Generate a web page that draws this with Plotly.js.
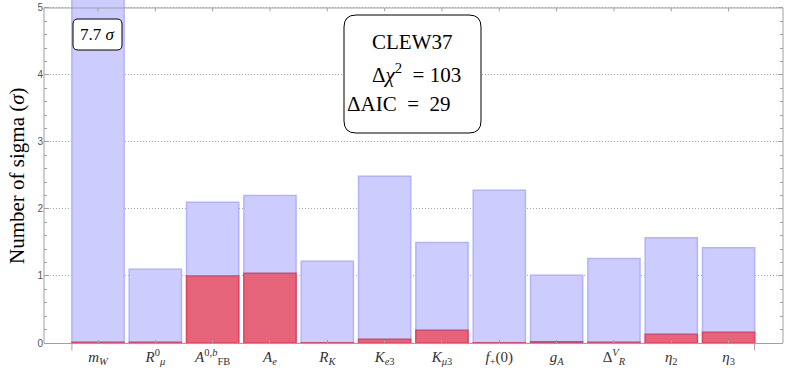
<!DOCTYPE html>
<html>
<head>
<meta charset="utf-8">
<script src="https://cdn.plot.ly/plotly-3.0.1.min.js"></script>
<style>html,body{margin:0;padding:0;background:#fff;}#chart{width:785px;height:377px;}</style>
</head>
<body>
<div id="chart"></div>
<script>
// ---- data ----
const categories = ["mW","Rmu0","AFB0b","Ae","RK","Ke3","Kmu3","fplus0","gA","DeltaRV","eta2","eta3"];
const tickLabels = [
  "<i>m</i><sub><i>W</i></sub>",
  "<i>R</i><sup>0</sup><sub><i>μ</i></sub>",
  "<i>A</i><sup>0,<i>b</i></sup><sub>FB</sub>",
  "<i>A</i><sub><i>e</i></sub>",
  "<i>R</i><sub><i>K</i></sub>",
  "<i>K</i><sub><i>e</i>3</sub>",
  "<i>K</i><sub><i>μ</i>3</sub>",
  "<i>f</i><sub>+</sub>(0)",
  "<i>g</i><sub><i>A</i></sub>",
  "Δ<sup><i>V</i></sup><sub><i>R</i></sub>",
  "<i>η</i><sub>2</sub>",
  "<i>η</i><sub>3</sub>"
];
const smSigma   = [7.7, 1.10, 2.10, 2.20, 1.22, 2.49, 1.50, 2.28, 1.01, 1.26, 1.57, 1.42];
const clewSigma = [0.01, 0.01, 1.00, 1.04, 0.005, 0.055, 0.19, 0.005, 0.02, 0.01, 0.13, 0.16];
const yTicks = [0, 1, 2, 3, 4, 5];
const modelName = "CLEW37";
const deltaChi2 = 103;
const deltaAIC = 29;
const mWLabel = "7.7";

// ---- layout helpers ----
const W = 785, H = 377, ML = 44, MR = 2, MT = 0, MB = 34;
const PW = W - ML - MR, PH = H - MT - MB;
const px = v => (v - ML) / PW;
const py = v => (H - MB - v) / PH;
function roundRect(x0, y0, x1, y1, r) {
  const X = v => px(v), Y = v => py(v);
  return `M${X(x0 + r)},${Y(y0)} L${X(x1 - r)},${Y(y0)} Q${X(x1)},${Y(y0)} ${X(x1)},${Y(y0 + r)} ` +
         `L${X(x1)},${Y(y1 - r)} Q${X(x1)},${Y(y1)} ${X(x1 - r)},${Y(y1)} ` +
         `L${X(x0 + r)},${Y(y1)} Q${X(x0)},${Y(y1)} ${X(x0)},${Y(y1 - r)} ` +
         `L${X(x0)},${Y(y0 + r)} Q${X(x0)},${Y(y0)} ${X(x0 + r)},${Y(y0)} Z`;
}

const xIdx = categories.map((c, i) => i);
const barW = 0.91;
const frameColor = "#a0a0a0";
const serif = "'Liberation Serif', 'DejaVu Serif', serif";

const traces = [
  {type: "bar", x: xIdx, y: smSigma, width: barW,
   marker: {color: "rgb(204,204,255)", line: {color: "rgb(178,178,255)", width: 1.5}},
   hoverinfo: "skip"},
  {type: "bar", x: xIdx, y: clewSigma, width: barW,
   marker: {color: "rgb(229,100,122)", line: {color: "rgb(226,68,94)", width: 1.5}},
   hoverinfo: "skip"},
  {type: "scatter", x: xIdx, y: smSigma, yaxis: "y2", mode: "markers",
   marker: {opacity: 0}, hoverinfo: "skip", showlegend: false}
];

const shapes = [
  {type: "line", xref: "paper", yref: "y", x0: 0, x1: 0, y0: 0, y1: 5, line: {color: frameColor, width: 1}, layer: "above"},
  {type: "line", xref: "paper", yref: "y", x0: 0, x1: 1, y0: 5, y1: 5, line: {color: frameColor, width: 1}, layer: "above"},
  {type: "line", xref: "paper", yref: "y", x0: 1, x1: 1, y0: 0, y1: 5, line: {color: frameColor, width: 1}, layer: "above"},
  {type: "line", xref: "x", yref: "paper", x0: -barW / 2, x1: -barW / 2, y0: 0, y1: -0.022, line: {color: frameColor, width: 1}},
  {type: "line", xref: "x", yref: "paper", x0: xIdx.length - 1 + barW / 2, x1: xIdx.length - 1 + barW / 2, y0: 0, y1: -0.022, line: {color: frameColor, width: 1}},
  {type: "path", xref: "paper", yref: "paper", path: roundRect(73, 19, 122, 50, 5), line: {color: "#000", width: 1}, fillcolor: "#fff", layer: "above"},
  {type: "path", xref: "paper", yref: "paper", path: roundRect(344, 15, 481, 133, 12), line: {color: "#000", width: 1}, fillcolor: "#fff", layer: "above"}
];
xIdx.forEach(i => shapes.push({type: "line", xref: "x", yref: "y", x0: i, x1: i, y0: 5, y1: 5 - 0.05, line: {color: frameColor, width: 1}, layer: "above"}));

const annotations = [
  {xref: "paper", yref: "paper", x: px(97.5), y: py(34.5), text: mWLabel + " <i>σ</i>", showarrow: false,
   font: {family: serif, size: 17, color: "#000"}, xanchor: "center", yanchor: "middle"},
  {xref: "paper", yref: "paper", x: px(412), y: py(42), text: modelName, showarrow: false,
   font: {family: serif, size: 21, color: "#000"}, xanchor: "center", yanchor: "middle"},
  {xref: "paper", yref: "paper", x: px(416), y: py(74), text: "Δ<i>χ</i><sup>2</sup>  = " + deltaChi2, showarrow: false,
   font: {family: serif, size: 21, color: "#000"}, xanchor: "center", yanchor: "middle"},
  {xref: "paper", yref: "paper", x: px(399), y: py(104), text: "ΔAIC\u2002=\u2002" + deltaAIC, showarrow: false,
   font: {family: serif, size: 21, color: "#000"}, xanchor: "center", yanchor: "middle"},
  {xref: "paper", yref: "paper", x: px(17), y: py(176), text: "Number of sigma (<i>σ</i>)", showarrow: false,
   textangle: -90, font: {family: serif, size: 21, color: "#000"}, xanchor: "center", yanchor: "middle"}
];

const layout = {
  width: W, height: H,
  margin: {l: ML, r: MR, t: MT, b: MB, pad: 0},
  paper_bgcolor: "#fff", plot_bgcolor: "#fff",
  barmode: "overlay", showlegend: false,
  xaxis: {range: [-0.942, 11.949], tickvals: xIdx, ticktext: tickLabels,
          ticks: "inside", ticklen: 3, tickcolor: frameColor,
          showline: true, linecolor: frameColor, linewidth: 1,
          showgrid: false, zeroline: false, fixedrange: true,
          tickfont: {family: serif, size: 15, color: "#333"}},
  yaxis: {range: [0, 5.119], tickvals: yTicks, ticks: "inside", ticklen: 5, tickcolor: frameColor,
          minor: {dtick: 0.2, ticks: "inside", ticklen: 3, tickcolor: frameColor, showgrid: false},
          showline: false, showgrid: true, gridcolor: "#a8a8a8", griddash: "1px,2px", gridwidth: 1,
          zeroline: false, fixedrange: true,
          tickfont: {family: "'Liberation Sans', Arial, sans-serif", size: 10, color: "#555"}},
  yaxis2: {range: [0, 5.119], overlaying: "y", side: "right", tickvals: yTicks, ticks: "inside", ticklen: 5,
           tickcolor: frameColor, showticklabels: false,
           minor: {dtick: 0.2, ticks: "inside", ticklen: 3, tickcolor: frameColor, showgrid: false},
           showline: false, showgrid: false, zeroline: false, fixedrange: true},
  shapes: shapes,
  annotations: annotations
};

Plotly.newPlot("chart", traces, layout, {displayModeBar: false, staticPlot: true});
</script>
</body>
</html>
